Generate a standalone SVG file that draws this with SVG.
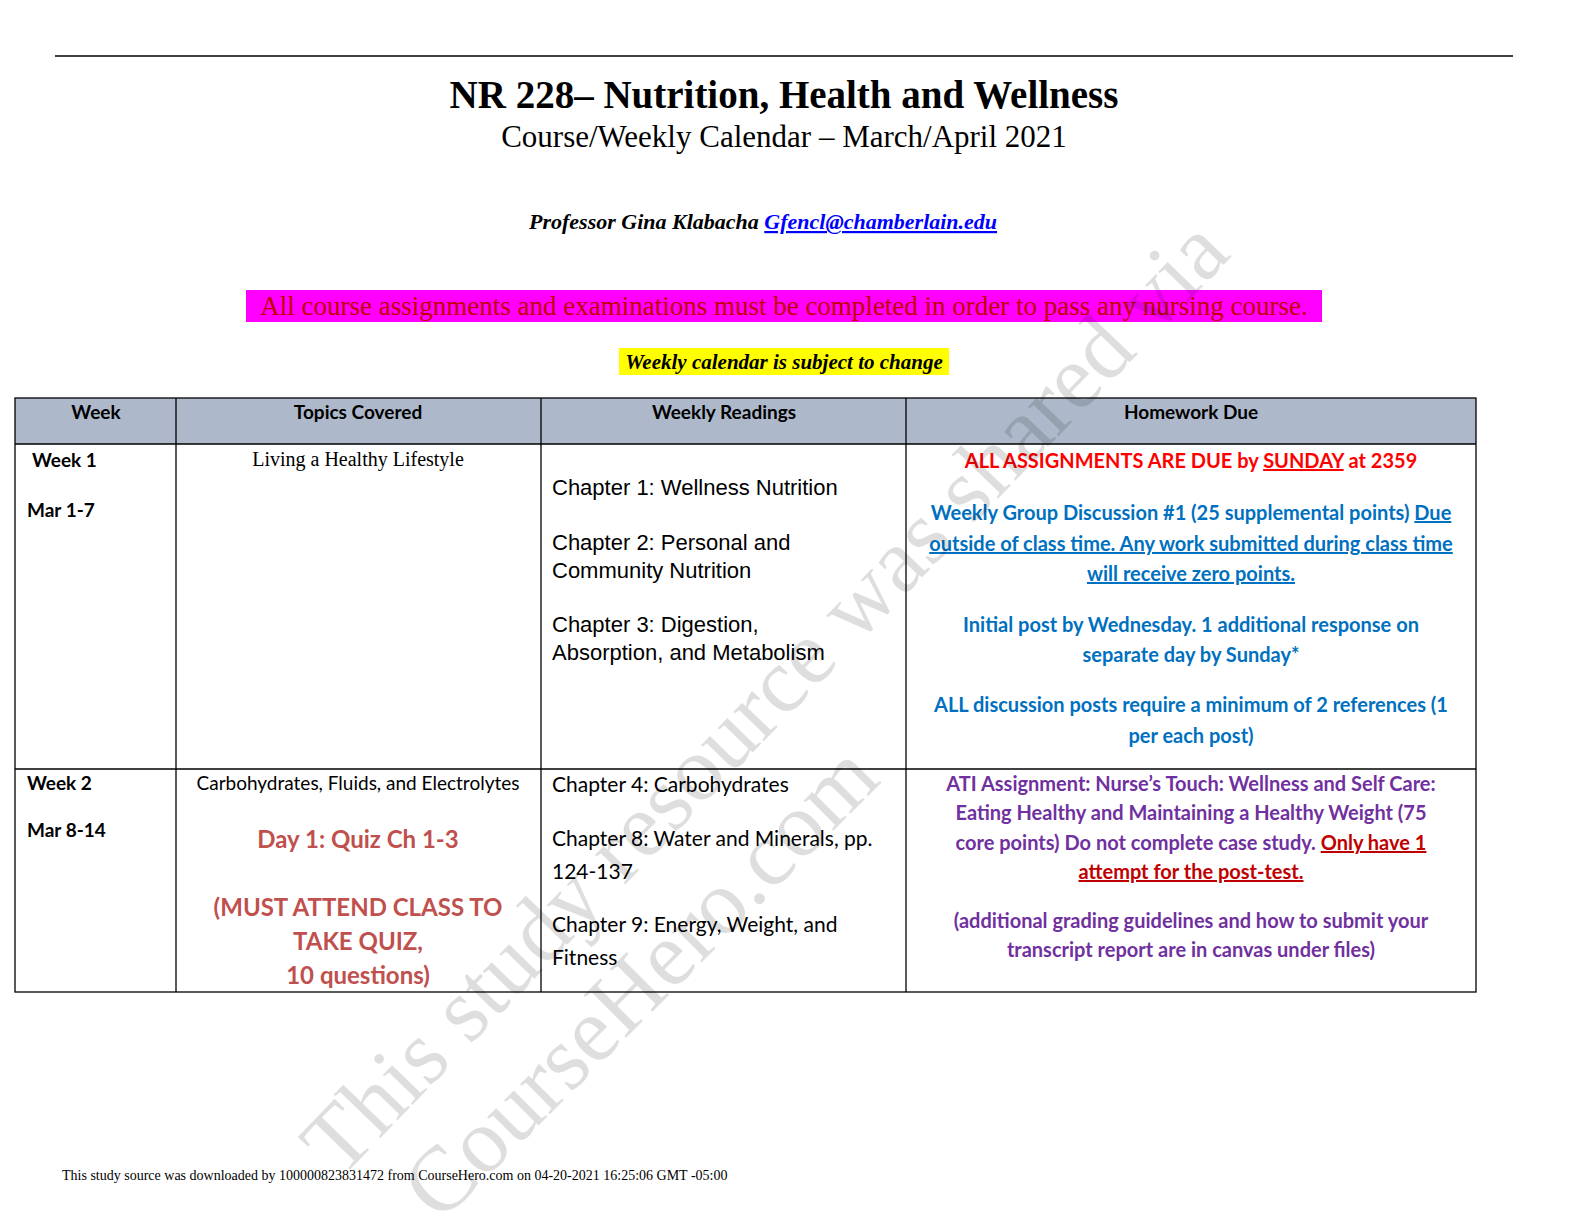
<svg xmlns="http://www.w3.org/2000/svg" width="1584" height="1224" viewBox="0 0 1584 1224">
<style>
.s{font-family:"Liberation Serif",serif}
.c{font-family:Lato,"Open Sans",sans-serif}
.a{font-family:"Liberation Sans",Arial,sans-serif}
.b{fill:#0070c0;font-weight:bold}
.p{fill:#7030a0;font-weight:bold}
.r{fill:#c0504d;font-weight:bold}
.g{stroke:#000;stroke-width:1.3;fill:none}
</style>
<rect width="1584" height="1224" fill="#fff"/>
<line x1="55" y1="56" x2="1513" y2="56" stroke="#000" stroke-width="1.3"/>
<text class="s" x="784" y="108" font-size="39" font-weight="bold" text-anchor="middle">NR 228– Nutrition, Health and Wellness</text>
<text class="s" x="784" y="147" font-size="31" text-anchor="middle">Course/Weekly Calendar – March/April 2021</text>
<text class="s" x="529" y="229" font-size="22" font-weight="bold" font-style="italic">Professor Gina Klabacha <tspan fill="#0000ff" text-decoration="underline">Gfencl@chamberlain.edu</tspan></text>
<rect x="246" y="290" width="1076" height="32" fill="#ff00ff"/>
<text class="s" x="784" y="315" font-size="27" text-anchor="middle" fill="#c00000">All course assignments and examinations must be completed in order to pass any nursing course.</text>
<rect x="619" y="348" width="330" height="27" fill="#ffff00"/>
<text class="s" x="784" y="369" font-size="21" font-weight="bold" font-style="italic" text-anchor="middle">Weekly calendar is subject to change</text>
<rect x="15" y="398" width="1461" height="46" fill="#adb9ca"/>
<g class="g">
<rect x="15" y="398" width="1461" height="594"/>
<line x1="15" y1="444" x2="1476" y2="444"/>
<line x1="15" y1="769" x2="1476" y2="769"/>
<line x1="176" y1="398" x2="176" y2="992"/>
<line x1="541" y1="398" x2="541" y2="992"/>
<line x1="906" y1="398" x2="906" y2="992"/>
</g>
<g class="c" font-size="19" font-weight="bold" text-anchor="middle">
<text x="96" y="419">Week</text><text x="358" y="419">Topics Covered</text><text x="724" y="419">Weekly Readings</text><text x="1191" y="419">Homework Due</text>
</g>
<g class="c" font-size="19" font-weight="bold">
<text x="32" y="467">Week 1</text><text x="27" y="517">Mar 1-7</text>
<text x="27" y="790">Week 2</text><text x="27" y="837">Mar 8-14</text>
</g>
<text class="s" x="358" y="466" font-size="20" text-anchor="middle">Living a Healthy Lifestyle</text>
<g class="a" font-size="22">
<text x="552" y="495">Chapter 1: Wellness Nutrition</text>
<text x="552" y="550">Chapter 2: Personal and</text><text x="552" y="578">Community Nutrition</text>
<text x="552" y="632">Chapter 3: Digestion,</text><text x="552" y="660">Absorption, and Metabolism</text>
</g>
<g class="c" font-size="20" text-anchor="middle">
<text x="1191" y="468" fill="#ff0000" font-weight="bold">ALL ASSIGNMENTS ARE DUE by <tspan text-decoration="underline">SUNDAY</tspan> at 2359</text>
<text x="1191" y="520" class="b">Weekly Group Discussion #1 (25 supplemental points) <tspan text-decoration="underline">Due</tspan></text>
<text x="1191" y="551" class="b" text-decoration="underline">outside of class time. Any work submitted during class time</text>
<text x="1191" y="581" class="b" text-decoration="underline">will receive zero points.</text>
<text x="1191" y="632" class="b">Initial post by Wednesday. 1 additional response on</text>
<text x="1191" y="662" class="b">separate day by Sunday*</text>
<text x="1191" y="712" class="b">ALL discussion posts require a minimum of 2 references (1</text>
<text x="1191" y="743" class="b">per each post)</text>
<text x="1191" y="791" class="p">ATI Assignment: Nurse’s Touch: Wellness and Self Care:</text>
<text x="1191" y="820" class="p">Eating Healthy and Maintaining a Healthy Weight (75</text>
<text x="1191" y="850" class="p">core points) Do not complete case study. <tspan fill="#c00000" text-decoration="underline">Only have 1</tspan></text>
<text x="1191" y="879" fill="#c00000" font-weight="bold" text-decoration="underline">attempt for the post-test.</text>
<text x="1191" y="928" class="p">(additional grading guidelines and how to submit your</text>
<text x="1191" y="957" class="p">transcript report are in canvas under files)</text>
</g>
<g class="c" text-anchor="middle">
<text x="358" y="790" font-size="19">Carbohydrates, Fluids, and Electrolytes</text>
<text x="358" y="848" font-size="24" class="r">Day 1: Quiz Ch 1-3</text>
<text x="358" y="916" font-size="24" class="r">(MUST ATTEND CLASS TO</text>
<text x="358" y="950" font-size="24" class="r">TAKE QUIZ,</text>
<text x="358" y="984" font-size="24" class="r">10 questions)</text>
</g>
<g class="c" font-size="21">
<text x="552" y="792">Chapter 4: Carbohydrates</text>
<text x="552" y="846">Chapter 8: Water and Minerals, pp.</text><text x="552" y="879">124-137</text>
<text x="552" y="932">Chapter 9: Energy, Weight, and</text><text x="552" y="965">Fitness</text>
</g>
<g class="s" font-size="92" fill="#000" fill-opacity="0.13">
<text transform="translate(340,1180) rotate(-46)">This study resource was shared via</text>
<text transform="translate(440,1224) rotate(-45)">CourseHero.com</text>
</g>
<text class="s" x="62" y="1180" font-size="14">This study source was downloaded by 100000823831472 from CourseHero.com on 04-20-2021 16:25:06 GMT -05:00</text>
</svg>
